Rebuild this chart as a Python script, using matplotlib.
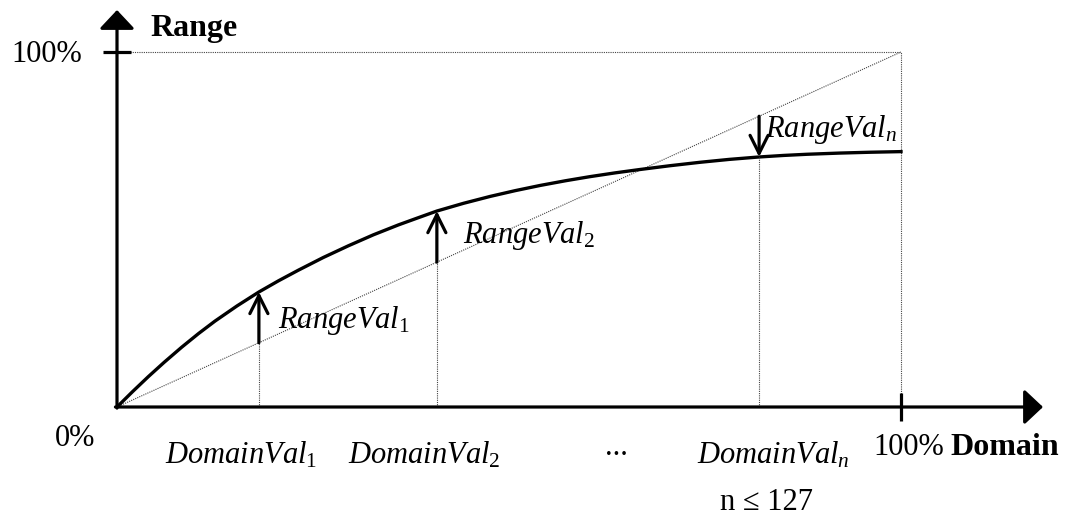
import numpy as np
import matplotlib
matplotlib.use("Agg")
import matplotlib.pyplot as plt

plt.rcParams['font.family'] = ['Liberation Serif', 'DejaVu Serif']
plt.rcParams['mathtext.fontset'] = 'custom'
plt.rcParams['mathtext.rm'] = 'Liberation Serif'
plt.rcParams['mathtext.it'] = 'Liberation Serif:italic'
plt.rcParams['mathtext.bf'] = 'Liberation Serif:bold'

# curve (percent of domain / range)
curve_x = [0, 2, 4, 6, 8.25, 10.4, 12.5, 15.3, 18.1, 20.6, 23.1, 26.3, 29.5, 32.7,
           35.9, 38.4, 40.8, 44.2, 47.6, 50.8, 54.0, 57.2, 60.3, 63.5, 66.7, 70.5,
           74.4, 78.1, 81.9, 85.0, 88.0, 92.2, 96.0, 100]
curve_y = [0, 4.36, 8.56, 12.56, 16.84, 20.69, 24.2, 28.46, 32.4, 35.55, 38.5, 42.1,
           45.4, 48.5, 51.3, 53.3, 55.2, 57.38, 59.32, 60.95, 62.42, 63.73, 64.88,
           65.94, 66.9, 67.96, 68.94, 69.75, 70.43, 70.86, 71.19, 71.53, 71.76, 71.94]

# the marked sample points
domain_vals = [18.1, 40.8, 81.9]
range_vals = [32.4, 55.2, 70.43]
domain_labels = [r'$\mathit{DomainVal}_{1}$', r'$\mathit{DomainVal}_{2}$', r'$\mathit{DomainVal}_{n}$']
range_labels = [r'$\mathit{RangeVal}_{1}$', r'$\mathit{RangeVal}_{2}$', r'$\mathit{RangeVal}_{n}$']

W, H = 1078, 522
FS = 22
FSB = 23

fig = plt.figure(figsize=(W / 100, H / 100), dpi=100)
ax = fig.add_axes([0, 0, 1, 1])
# pixel origin (117, 407); 100% at (901, 52)
sx, sy = 7.84, 3.55
ax.set_xlim(-117 / sx, (W - 117) / sx)
ax.set_ylim(-(H - 407) / sy, 407 / sy)
ax.axis('off')

def fx(px):
    return px / W

def fy(py):
    return 1 - py / H

dot = dict(color='#444444', lw=0.8, ls=(0, (1, 1)))

# reference box + diagonal
ax.plot([0, 100], [0, 100], **dot)
ax.plot([1.7, 100], [100, 100], **dot)
ax.plot([100, 100], [0, 100], **dot)

# axes with arrowheads
axis_arrow = dict(arrowstyle='-|>,head_length=1.15,head_width=1.08', lw=2.3,
                  color='black', shrinkA=0, shrinkB=0, mutation_scale=10)
ax.annotate('', xy=(0, (407 - 10) / sy), xytext=(0, -0.3), arrowprops=axis_arrow)
ax.annotate('', xy=((1043 - 117) / sx, 0), xytext=(-0.2, 0), arrowprops=axis_arrow)
ax.plot(0, 100, marker='_', ms=20, mew=2.3, color='black')
ax.plot(100, 0, marker='|', ms=20, mew=2.3, color='black')

# the curve
ax.plot(curve_x, curve_y, color='black', lw=2.4, solid_joinstyle='round')

# sample arrows and dotted drop lines
small_arrow = dict(arrowstyle='->,head_length=1.3,head_width=0.65', lw=2.3,
                   color='black', shrinkA=0, shrinkB=0, mutation_scale=10)
for dx, ry in zip(domain_vals, range_vals):
    ax.plot([dx, dx], [0, min(dx, ry)], **dot)
    ax.annotate('', xy=(dx, ry), xytext=(dx, dx), arrowprops=small_arrow)

# labels
fig.text(fx(82), fy(62), '100%', fontsize=FS, ha='right', va='baseline')
fig.text(fx(150), fy(36), 'Range', fontsize=FSB, fontweight='bold', ha='left', va='baseline')
fig.text(fx(95), fy(446), '0%', fontsize=FS, ha='right', va='baseline')
fig.text(fx(873), fy(455), '100%', fontsize=FS, ha='left', va='baseline')
fig.text(fx(950), fy(455), 'Domain', fontsize=FSB, fontweight='bold', ha='left', va='baseline')
fig.text(fx(605), fy(455), '...', fontsize=FS, ha='left', va='baseline')
fig.text(fx(720), fy(510), 'n \u2264 127', fontsize=FS, ha='left', va='baseline')

dom_left = [165, 348, 697]
for lab, px in zip(domain_labels, dom_left):
    fig.text(fx(px), fy(464), lab, fontsize=FS, ha='left', va='baseline')

rng_pos = [(278, 328), (463, 243), (765, 137)]
for lab, (px, py) in zip(range_labels, rng_pos):
    fig.text(fx(px), fy(py), lab, fontsize=FS, ha='left', va='baseline')

fig.savefig('out.png', dpi=100)
